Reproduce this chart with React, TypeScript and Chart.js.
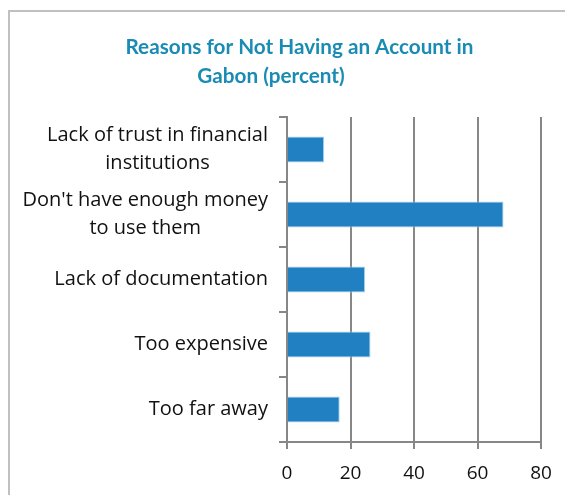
import React, { useEffect, useRef } from "react";
import { Chart, registerables } from "chart.js";

Chart.register(...registerables);

const categories: (string | string[])[] = [
  ["Lack of trust in financial", "institutions"],
  ["Don't have enough money", "to use them"],
  "Lack of documentation",
  "Too expensive",
  "Too far away",
];
const values: number[] = [11.7, 68.2, 24.6, 26.3, 16.6];
const xTicks: number[] = [0, 20, 40, 60, 80];
const titleLines: string[] = ["Reasons for Not Having an Account in", "Gabon (percent)"];

const GRID = "#878787";
const LABEL_FONT = "'Open Sans', 'Noto Sans', sans-serif";

const titlePlugin = {
  id: "customTitle",
  afterDraw(chart: any) {
    const ctx = chart.ctx;
    ctx.save();
    ctx.font = "bold 20.7px Lato, 'Open Sans', sans-serif";
    ctx.fillStyle = "#1a8cb4";
    ctx.textAlign = "center";
    ctx.textBaseline = "alphabetic";
    ctx.fillText(titleLines[0], 289.5, 42.3);
    ctx.fillText(titleLines[1], 261, 71.3);
    ctx.restore();
  },
};

// Category labels: each label block right-aligned to the axis, its lines centred within the block
const categoryLabelPlugin = {
  id: "categoryLabels",
  afterDraw(chart: any) {
    const ctx = chart.ctx;
    const ys = chart.scales.y;
    const labels = chart.data.labels as (string | string[])[];
    ctx.save();
    ctx.font = `20px ${LABEL_FONT}`;
    ctx.fillStyle = "#111";
    ctx.textAlign = "center";
    ctx.textBaseline = "middle";
    const lineH = 28;
    const rightX = ys.right - 19;
    labels.forEach((lab, i) => {
      const lines = Array.isArray(lab) ? lab : [lab];
      const w = Math.max(...lines.map((l) => ctx.measureText(l).width));
      const cx = rightX - w / 2;
      const cy = ys.getPixelForTick(i);
      lines.forEach((l, j) => {
        ctx.fillText(l, cx, cy + (j - (lines.length - 1) / 2) * lineH);
      });
    });
    ctx.restore();
  },
};

export default function App() {
  const ref = useRef<HTMLCanvasElement | null>(null);
  useEffect(() => {
    if (!ref.current) return;
    const chart = new Chart(ref.current, {
      type: "bar",
      data: {
        labels: categories,
        datasets: [
          {
            data: values,
            backgroundColor: "#2180c2",
            borderColor: "#a8d0ef",
            borderWidth: 1,
            categoryPercentage: 1,
            barPercentage: 0.4,
          },
        ],
      },
      options: {
        indexAxis: "y",
        animation: false,
        responsive: false,
        maintainAspectRatio: false,
        layout: { padding: { top: 105, right: 24, bottom: 10, left: 0 } },
        plugins: { legend: { display: false }, title: { display: false }, tooltip: { enabled: false } },
        scales: {
          x: {
            min: 0,
            max: 80,
            afterBuildTicks: (scale: any) => {
              scale.ticks = xTicks.map((v) => ({ value: v }));
            },
            afterFit: (scale: any) => {
              scale.height = 43;
            },
            grid: { color: GRID, lineWidth: 2, tickLength: 7, drawTicks: true },
            border: { display: true, color: GRID, width: 2 },
            ticks: {
              padding: 13,
              color: "#111",
              font: { family: LABEL_FONT, size: 19 },
            },
          },
          y: {
            offset: true,
            afterFit: (scale: any) => {
              scale.width = 277;
            },
            grid: { display: true, drawOnChartArea: false, offset: true, color: GRID, lineWidth: 2, tickLength: 8 },
            border: { display: true, color: GRID, width: 2 },
            ticks: { display: false },
          },
        },
      },
      plugins: [titlePlugin, categoryLabelPlugin],
    });
    return () => chart.destroy();
  }, []);

  return (
    <div
      style={{
        position: "fixed",
        left: 8,
        top: 10,
        width: 555,
        height: 485,
        borderLeft: "2px solid #c0c0c0",
        borderTop: "2px solid #c0c0c0",
        overflow: "hidden",
        background: "#fff",
      }}
    >
      <canvas ref={ref} width={555} height={483} style={{ display: "block" }} />
    </div>
  );
}
